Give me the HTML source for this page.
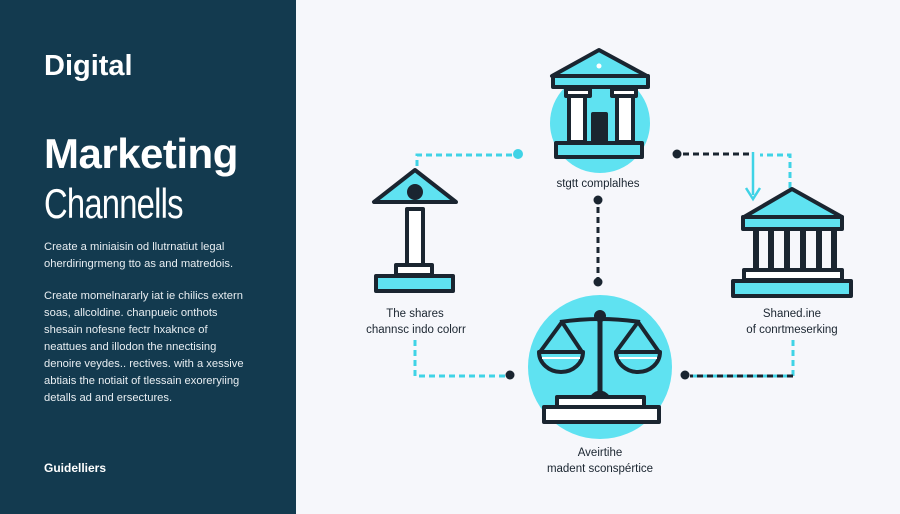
<!DOCTYPE html>
<html><head><meta charset="utf-8"><style>
html,body{margin:0;padding:0;width:900px;height:514px;overflow:hidden;background:#f6f7fb;}
.l{position:absolute;left:0;top:0;width:296px;height:514px;background:#133a4f;color:#fff;font-family:"Liberation Sans",sans-serif;}
.l div{position:absolute;left:44px;white-space:nowrap;}
.p{font-size:11.2px;line-height:17px;color:#e8eef2;}
svg{position:absolute;left:0;top:0;}
</style></head><body>
<div class="l">
<div style="top:50px;font-size:29px;font-weight:bold;">Digital</div>
<div style="top:130px;font-size:42px;font-weight:bold;letter-spacing:-0.5px;">Marketing</div>
<div style="top:180px;font-size:42px;transform:scaleX(0.78);transform-origin:left;letter-spacing:-1px;">Channells</div>
<div class="p" style="top:239px;">Create a miniaisin od llutrnatiut legal<br>oherdiringrmeng tto as and matredois.</div>
<div class="p" style="top:288px;">Create momelnararly iat ie chilics extern<br>soas, allcoldine. chanpueic onthots<br>shesain nofesne fectr hxaknce of<br>neattues and illodon the nnectising<br>denoire veydes.. rectives. with a xessive<br>abtiais the notiait of tlessain exoreryiing<br>detalls ad and ersectures.</div>
<div style="top:461px;font-size:12px;font-weight:bold;">Guidelliers</div>
</div>
<svg width="900" height="514" viewBox="0 0 900 514" font-family="Liberation Sans,sans-serif">
<g fill="none" stroke-width="3" stroke-dasharray="6 4">
<path d="M417 166 V155 H512" stroke="#3fd3e6"/>
<path d="M415 340 V376 H505" stroke="#3fd3e6"/>
<path d="M683 154 H750" stroke="#1a2530"/>
<path d="M790 188 V155 H760" stroke="#3fd3e6"/>
<path d="M598 207 V280" stroke="#1a2530"/>
<path d="M793 340 V376 H690" stroke="#3fd3e6"/>
<path d="M793 376 H690" stroke="#1a2530"/>
</g>
<path d="M753 152 V195" stroke="#3fd3e6" stroke-width="2.5"/>
<path d="M746 188 L753 199 L760 188" fill="none" stroke="#3fd3e6" stroke-width="2.5"/>
<circle cx="518" cy="154" r="5" fill="#3fd3e6"/>
<circle cx="677" cy="154" r="4.5" fill="#1a2530"/>
<circle cx="598" cy="200" r="4.5" fill="#1a2530"/>
<circle cx="598" cy="282" r="4.5" fill="#1a2530"/>
<circle cx="510" cy="375" r="4.5" fill="#1a2530"/>
<circle cx="685" cy="375" r="4.5" fill="#1a2530"/>
<g stroke="#1a2530" stroke-width="4" stroke-linejoin="round">
<!-- top -->
<circle cx="600" cy="123" r="50" fill="#5fe2f1" stroke="none"/>
<path d="M599 50 L552 76 H647 Z" fill="#5fe2f1"/>
<circle cx="599" cy="66" r="2.5" fill="#fff" stroke="none"/>
<rect x="553" y="76" width="95" height="11" fill="#5fe2f1"/>
<rect x="566" y="89" width="24" height="7" fill="#fff"/>
<rect x="612" y="89" width="24" height="7" fill="#fff"/>
<rect x="569" y="96" width="16" height="46" fill="#fff"/>
<rect x="617" y="96" width="16" height="46" fill="#fff"/>
<rect x="593" y="114" width="13" height="28" fill="#1a2530"/>
<rect x="556" y="143" width="86" height="14" fill="#5fe2f1"/>
<!-- left -->
<path d="M415 170 L374 202 H456 Z" fill="#5fe2f1"/>
<circle cx="415" cy="192" r="6" fill="#1a2530"/>
<rect x="407" y="209" width="16" height="56" fill="#fff"/>
<rect x="396" y="265" width="36" height="10" fill="#fff"/>
<rect x="376" y="276" width="77" height="15" fill="#5fe2f1"/>
<!-- right -->
<path d="M792 189 L744 217 H842 Z" fill="#5fe2f1"/>
<rect x="743" y="217" width="99" height="12" fill="#5fe2f1"/>
<path d="M756 230 V270 M771 230 V270 M787 230 V270 M803 230 V270 M819 230 V270 M834 230 V270" stroke-width="6"/>
<rect x="744" y="270" width="98" height="10" fill="#fff"/>
<rect x="733" y="281" width="118" height="15" fill="#5fe2f1"/>
<!-- scales -->
<circle cx="600" cy="367" r="72" fill="#5fe2f1" stroke="none"/>
<circle cx="600" cy="316" r="4" fill="#1a2530"/>
<path d="M560 322 Q600 316 640 322" fill="none"/>
<path d="M600 318 V392" stroke-width="5"/>
<path d="M562 322 L540 352 M562 322 L582 352 M638 322 L616 352 M638 322 L659 352" fill="none"/>
<path d="M539 352 A22 20 0 0 0 583 352 Z" fill="#5fe2f1"/>
<path d="M616 352 A22 20 0 0 0 660 352 Z" fill="#5fe2f1"/>
<path d="M542 358 H580 M619 358 H657" stroke="#fff" stroke-width="2"/>
<path d="M592 397 Q600 388 608 397 Z" fill="#1a2530"/>
<rect x="557" y="397" width="87" height="10" fill="#fff"/>
<rect x="544" y="407" width="115" height="15" fill="#fff"/>
</g>
<g font-size="11.5" fill="#1a2530" text-anchor="middle">
<text x="598" y="187">stgtt complalhes</text>
<text x="415" y="317">The shares</text>
<text x="416" y="333">channsc indo colorr</text>
<text x="792" y="317">Shaned.ine</text>
<text x="792" y="333">of conrtmeserking</text>
<text x="600" y="456">Aveirtihe</text>
<text x="600" y="472">madent sconspértice</text>
</g>
</svg>
</body></html>
